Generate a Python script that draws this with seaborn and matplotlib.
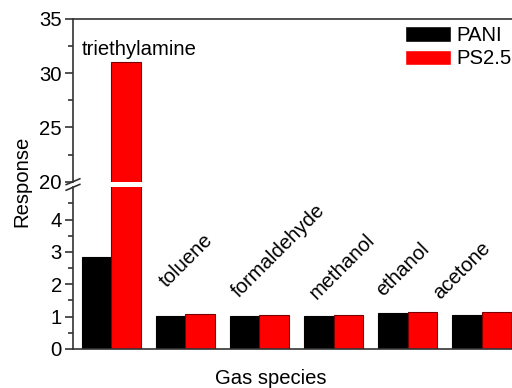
import matplotlib
matplotlib.use("Agg")
import matplotlib.pyplot as plt
from matplotlib.lines import Line2D
import seaborn as sns
import pandas as pd

# Sensor response of PANI and PS2.5 films to different gases
gases = ["triethylamine", "toluene", "formaldehyde", "methanol", "ethanol", "acetone"]
series = ["PANI", "PS2.5"]
pani = [2.85, 1.03, 1.03, 1.03, 1.10, 1.05]
ps25 = [31.0, 1.08, 1.05, 1.05, 1.13, 1.15]

upper_ticks = [20, 25, 30, 35]
lower_ticks = [0, 1, 2, 3, 4]

# where each rotated gas name is anchored (x in category units, y in response units)
label_anchor = {
    "toluene": (0.75, 1.89),
    "formaldehyde": (1.725, 1.58),
    "methanol": (2.775, 1.51),
    "ethanol": (3.675, 1.61),
    "acetone": (4.44, 1.51),
}

df = pd.DataFrame({
    "gas": gases * 2,
    "sample": [series[0]] * len(gases) + [series[1]] * len(gases),
    "response": pani + ps25,
})

sns.set_style("ticks")
plt.rcParams["font.family"] = ["Liberation Sans", "DejaVu Sans"]
plt.rcParams["text.color"] = "black"
plt.rcParams["ytick.labelcolor"] = "black"
FS = 14.6
plt.rcParams["font.size"] = FS

W, H = 512, 388
fig = plt.figure(figsize=(W / 100, H / 100), dpi=100)
fig.patch.set_facecolor("white")

left = 73 / W
width = (520 - 73) / W
ax_up = fig.add_axes([left, (H - 181.7) / H, width, (181.7 - 19) / H])
ax_lo = fig.add_axes([left, (H - 349) / H, width, (349 - 187.3) / H])

palette = {"PANI": "#000000", "PS2.5": "#ff0000"}
for ax in (ax_up, ax_lo):
    sns.barplot(data=df, x="gas", y="response", hue="sample", order=gases,
                hue_order=series, palette=palette, width=0.8, saturation=1,
                ax=ax, legend=(ax is ax_up))
    for patch, ec in zip(ax.patches, ["#000000"] * len(gases) + ["#7a0000"] * len(gases)):
        patch.set_edgecolor(ec)
        patch.set_linewidth(0.8)
    ax.set_xlim(-0.52, 5.52)
    ax.set_xlabel("")
    ax.set_ylabel("")
    ax.set_xticks([])
    ax.tick_params(axis="y", which="major", direction="out", length=6, width=1.2,
                   pad=2, labelsize=FS, color="#333333", labelcolor="black")
    ax.tick_params(axis="y", which="minor", direction="out", length=3.5, width=1.2,
                   color="#333333")
    for s in ax.spines.values():
        s.set_linewidth(1.2)
        s.set_color("#333333")
    ax.spines["right"].set_visible(False)

ax_up.set_ylim(20, 35)
ax_up.set_yticks(upper_ticks)
ax_up.set_yticks([22.5, 27.5, 32.5], minor=True)
ax_up.spines["bottom"].set_visible(False)

ax_lo.set_ylim(0, 5)
ax_lo.set_yticks(lower_ticks)
ax_lo.set_yticks([0.5, 1.5, 2.5, 3.5, 4.5], minor=True)
ax_lo.spines["top"].set_visible(False)

# category names written above the bars
ax_up.text(-0.40, 31.68, gases[0], ha="left", va="baseline", fontsize=FS, color="black")
for name, (x, y) in label_anchor.items():
    ax_lo.text(x, y, name, rotation=45, rotation_mode="anchor",
               ha="left", va="baseline", fontsize=FS, color="black")

# legend
handles, labels = ax_up.get_legend_handles_labels()
ax_up.get_legend().remove()
fig.legend(handles, labels, loc="upper left", bbox_to_anchor=(405 / W, 1 - 26 / H),
           frameon=False, fontsize=FS, handlelength=2.25, handleheight=0.8,
           handletextpad=0.3, labelspacing=0.22, borderpad=0, borderaxespad=0,
           labelcolor="black")

# axis-break marks on the left spine
for yb in (181.7, 187.3):
    fig.add_artist(Line2D([(73 - 7) / W, (73 + 7) / W],
                          [(H - yb - 3) / H, (H - yb + 3) / H],
                          color="#333333", lw=1.2, transform=fig.transFigure))

fig.text(22 / W, 1 - 181 / H, "Response", rotation=90, ha="center", va="center",
         fontsize=FS, color="black")
fig.text(271 / W, 4 / H, "Gas species", ha="center", va="baseline",
         fontsize=FS, color="black")

fig.savefig("out.png", dpi=100, facecolor="white")
